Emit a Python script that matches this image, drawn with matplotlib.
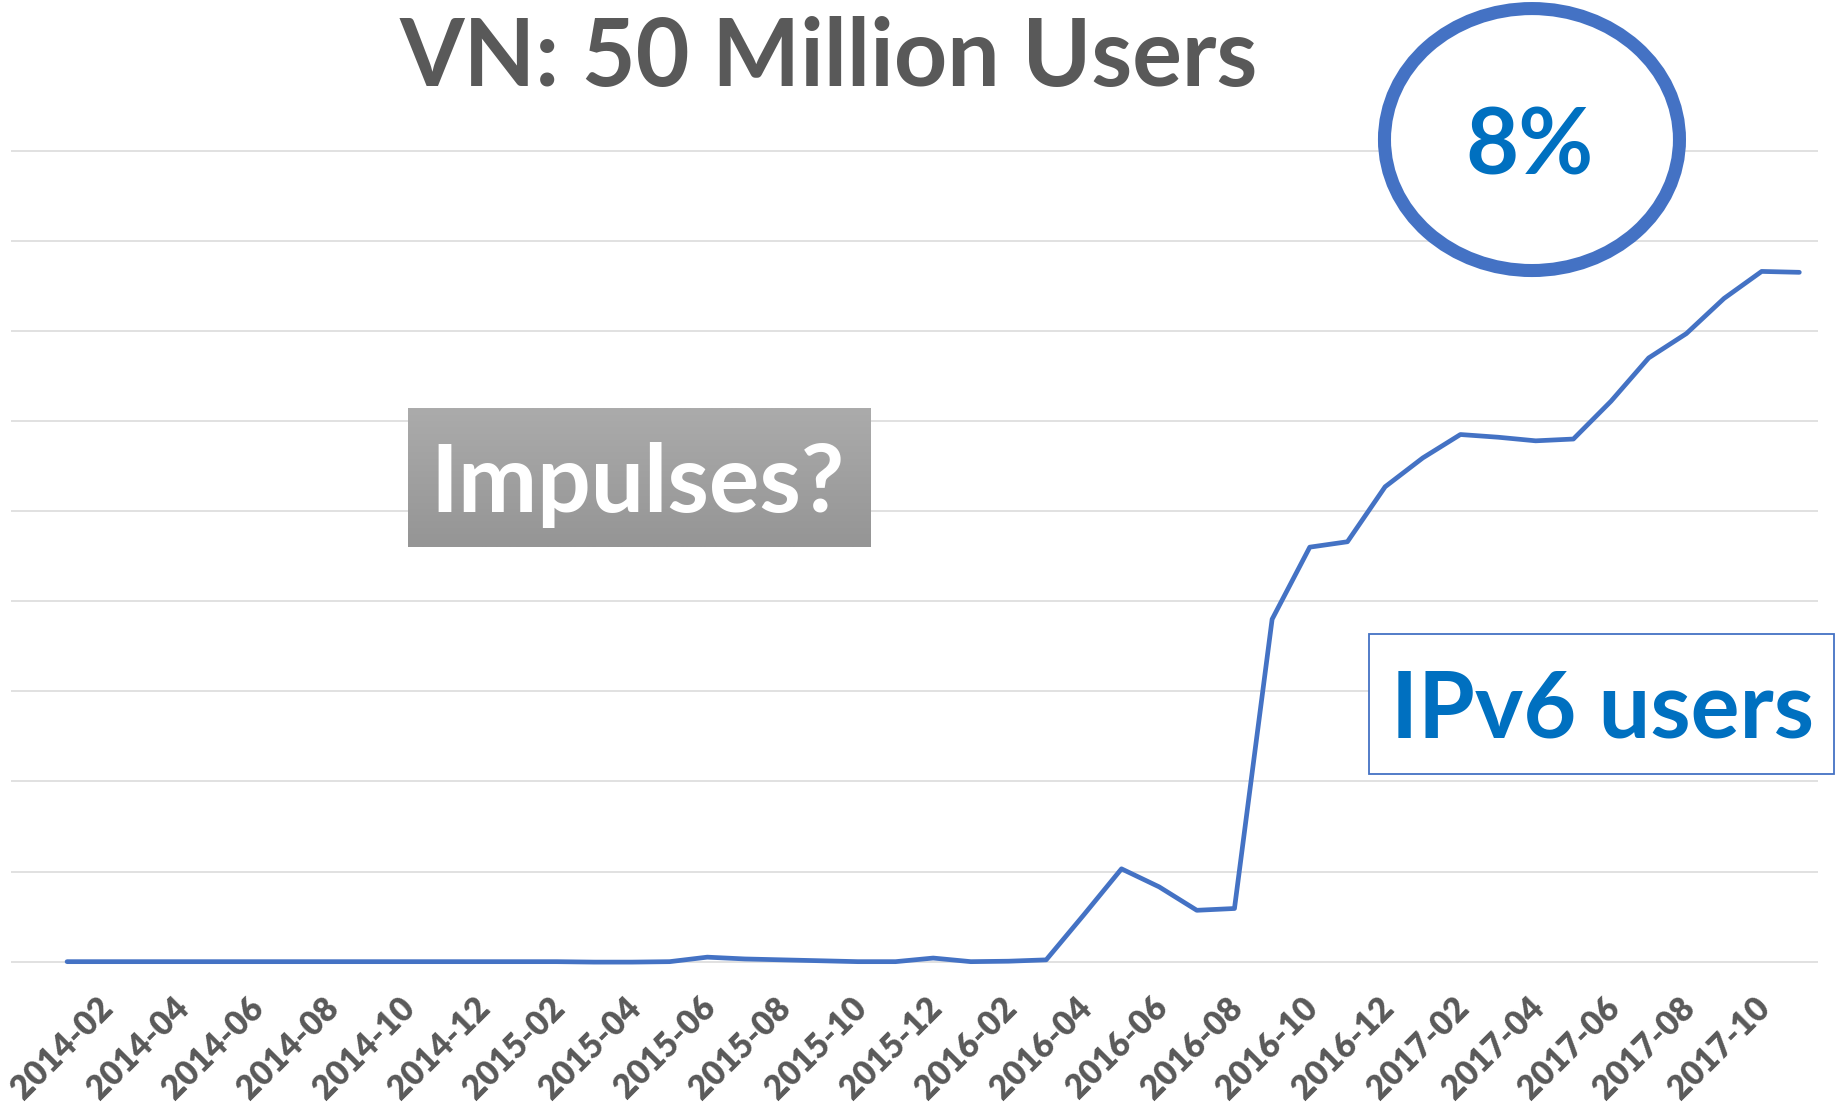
"""VN IPv6 adoption: share of users, Feb 2014 - Dec 2017."""
import matplotlib
matplotlib.use("Agg")
import matplotlib.pyplot as plt
import matplotlib.transforms as mtransforms
from matplotlib.patches import Ellipse, Rectangle
import numpy as np

plt.rcParams["font.family"] = ["Lato", "DejaVu Sans"]

# Monthly IPv6 share (%), 2014-02 .. 2017-12
months = [f"{y}-{m:02d}" for y in range(2014, 2018) for m in range(1, 13)][1:]
ipv6_pct = [
    0.0, 0.0, 0.0, 0.0, 0.0, 0.0, 0.0, 0.0, 0.0, 0.0, 0.0, 0.0, 0.0, 0.0,
    -0.005, -0.005, 0.0, 0.05, 0.03, 0.02, 0.01, 0.0, 0.0, 0.04, 0.0, 0.005,
    0.02, 0.52, 1.03, 0.83, 0.57, 0.59, 3.80, 4.60, 4.66, 5.27, 5.59, 5.85,
    5.82, 5.78, 5.80, 6.22, 6.70, 6.97, 7.36, 7.66, 7.65,
]
tick_labels = months[0:45:2]   # 2014-02 .. 2017-10, every second month
grid_levels = list(range(10))

GREY = "#595959"
BLUE = "#4472C4"
TEXT_BLUE = "#0070C0"

fig = plt.figure(figsize=(18.38, 11.11), dpi=100)
ax = fig.add_axes([0.00577, 0.1182, 0.98343, 0.7624])

x = np.arange(len(ipv6_pct))
for g in grid_levels:
    ax.axhline(g, color="#D9D9D9", lw=1.1, zorder=1)
ax.plot(x, ipv6_pct, color=BLUE, lw=3.4, solid_joinstyle="round",
        solid_capstyle="round", zorder=3, clip_on=False)

ax.set_xlim(-1.5, 46.5)
ax.set_ylim(-0.2, 9.2)
ax.set_xticks([])
ax.set_yticks([])
for s in ax.spines.values():
    s.set_visible(False)

# rotated category labels, shifted down-right like the original
offset = mtransforms.ScaledTranslation(0.41, -0.41, fig.dpi_scale_trans)
for i, lab in enumerate(tick_labels):
    ax.text(2 * i, 0, lab, transform=ax.transData + offset, rotation=45,
            rotation_mode="anchor", ha="right", va="center",
            fontsize=24, fontweight="heavy", color=GREY)

fig.text(0.4510, 0.9226, "VN: 50 Million Users", ha="center", va="baseline",
         fontsize=67, fontweight="bold", color=GREY)

# "8%" callout
fig.add_artist(Ellipse((0.8335, 0.8744), 0.1605, 0.2358, transform=fig.transFigure,
                       facecolor="white", edgecolor=BLUE, lw=9.4, zorder=4))
fig.text(0.8319, 0.8425, "8%", ha="center", va="baseline", fontsize=66,
         fontweight="bold", color=TEXT_BLUE, zorder=5)

# "Impulses?" grey gradient box
bax = fig.add_axes([0.2220, 0.5077, 0.2514, 0.1251])
grad = np.linspace(0xAB, 0x95, 100)[:, None] / 255.0
bax.imshow(np.dstack([grad, grad, grad]), aspect="auto", extent=(0, 1, 0, 1))
bax.set_axis_off()
fig.text(0.3466, 0.5392, "Impulses?", ha="center", va="baseline", fontsize=68,
         fontweight="bold", color="white", zorder=5)

# "IPv6 users" label box
fig.add_artist(Rectangle((0.7448, 0.3033), 0.2530, 0.1260, transform=fig.transFigure,
                         facecolor="white", edgecolor=BLUE, lw=1.3, zorder=4))
fig.text(0.8716, 0.3366, "IPv6 users", ha="center", va="baseline", fontsize=66,
         fontweight="bold", color=TEXT_BLUE, zorder=5)

fig.savefig("out.png", dpi=100)
